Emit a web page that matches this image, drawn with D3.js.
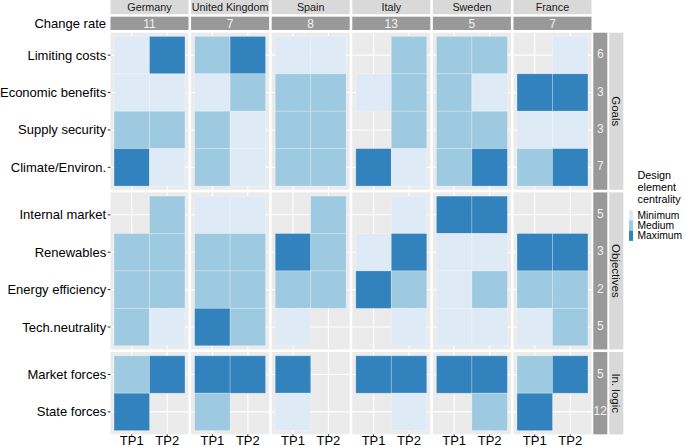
<!DOCTYPE html>
<html><head><meta charset="utf-8">
<script src="https://cdn.jsdelivr.net/npm/d3@7"></script>
<style>
html,body{margin:0;padding:0;background:#fff;}
svg{display:block;font-family:"Liberation Sans",Arial,Helvetica,sans-serif;}
</style></head>
<body><svg id="chart" width="685" height="447"></svg>
<script>
// ---------- data ----------
const countries = ["Germany","United Kingdom","Spain","Italy","Sweden","France"];
const changeRates = [11,7,8,13,5,7];
const timePoints = ["TP1","TP2"];
const groups = ["Goals","Objectives","In. logic"];
const goalRows = ["Limiting costs","Economic benefits","Supply security","Climate/Environ."];
const objectiveRows = ["Internal market","Renewables","Energy efficiency","Tech.neutrality"];
const logicRows = ["Market forces","State forces"];
const rowRates = [6,3,3,7,5,3,2,5,5,12];
const levels = ["Minimum","Medium","Maximum"];
// centrality codes per row [TP1, TP2]: 0 = absent, 1 = Minimum, 2 = Medium, 3 = Maximum
const germany = [[1,3],[1,1],[2,2],[3,1],[0,2],[2,2],[2,2],[2,1],[2,3],[3,0]];
const unitedKingdom = [[2,3],[1,2],[2,1],[2,1],[1,1],[2,2],[2,2],[3,2],[3,3],[2,0]];
const spain = [[1,1],[2,2],[2,2],[2,2],[0,2],[3,2],[2,2],[1,0],[3,0],[1,0]];
const italy = [[0,2],[1,2],[0,2],[3,1],[0,1],[1,3],[3,2],[0,1],[3,3],[0,1]];
const sweden = [[2,2],[2,1],[2,2],[2,3],[3,3],[1,1],[1,2],[1,1],[3,3],[0,2]];
const france = [[0,1],[3,3],[1,1],[2,3],[0,0],[3,3],[2,2],[1,2],[2,3],[3,0]];

const countryValues = [germany, unitedKingdom, spain, italy, sweden, france];
const groupRows = [goalRows, objectiveRows, logicRows];
const allRows = goalRows.concat(objectiveRows, logicRows);

// ---------- layout ----------
const svg = d3.select("#chart");
const panelLeft = 110.5, panelRight = 591.5;
const panelTop = 32.7, rowUnit = 37.4, gapY = 2.6;
const bg = "#ebebeb", stripLight = "#d9d9d9", stripDark = "#999999";
const fillColor = d3.scaleOrdinal().domain([1,2,3]).range(["#deebf7","#9ecae1","#3182bd"]);

const xCountry = d3.scaleBand().domain(countries).range([panelLeft, panelRight]).paddingInner(0.032);
const bw = xCountry.bandwidth();
const xTP = d3.scaleBand().domain(timePoints).range([0, bw]).paddingInner(0).paddingOuter(0.1);

let yCursor = panelTop;
const groupLayout = groups.map((g, i) => {
  const h = (groupRows[i].length + 0.2) * rowUnit;
  const y0 = yCursor;
  yCursor += h + gapY;
  const yScale = d3.scaleBand().domain(groupRows[i]).range([y0, y0 + h]).paddingInner(0).paddingOuter(0.1);
  return {name: g, y0, h, rows: groupRows[i], yScale};
});
const rowCenter = {};
groupLayout.forEach(gl => gl.rows.forEach(r => rowCenter[r] = gl.yScale(r) + gl.yScale.bandwidth()/2));

// ---------- top strips ----------
const topStrip = svg.append("g");
countries.forEach((c, ci) => {
  const x0 = xCountry(c);
  topStrip.append("rect").attr("x", x0).attr("y", 0).attr("width", bw).attr("height", 14.2).attr("fill", stripLight);
  topStrip.append("text").attr("x", x0 + bw/2).attr("y", 7.4).attr("text-anchor","middle").attr("dominant-baseline","central")
    .attr("font-size", 10.8).attr("fill", "#1a1a1a").text(c);
  topStrip.append("rect").attr("x", x0).attr("y", 16.7).attr("width", bw).attr("height", 13.3).attr("fill", stripDark);
  topStrip.append("text").attr("x", x0 + bw/2).attr("y", 23.6).attr("text-anchor","middle").attr("dominant-baseline","central")
    .attr("font-size", 12).attr("fill", "#f2f2f2").text(changeRates[ci]);
});
topStrip.append("text").attr("x", 106).attr("y", 23.5).attr("text-anchor","end").attr("dominant-baseline","central")
  .attr("font-size", 13).attr("fill", "#000").text("Change rate");

// ---------- panels ----------
const panels = svg.append("g");
groupLayout.forEach(gl => {
  countries.forEach((c, ci) => {
    const x0 = xCountry(c);
    const p = panels.append("g");
    p.append("rect").attr("x", x0).attr("y", gl.y0).attr("width", bw).attr("height", gl.h).attr("fill", bg);
    timePoints.forEach(tp => {
      const gx = x0 + xTP(tp) + xTP.bandwidth()/2;
      p.append("line").attr("x1", gx).attr("x2", gx).attr("y1", gl.y0).attr("y2", gl.y0 + gl.h)
        .attr("stroke", "#fff").attr("stroke-width", 1.1);
    });
    gl.rows.forEach(r => {
      const gy = rowCenter[r];
      p.append("line").attr("x1", x0).attr("x2", x0 + bw).attr("y1", gy).attr("y2", gy)
        .attr("stroke", "#fff").attr("stroke-width", 1.1);
    });
    gl.rows.forEach(r => {
      const ri = allRows.indexOf(r);
      timePoints.forEach((tp, ti) => {
        const v = countryValues[ci][ri][ti];
        if (!v) return;
        p.append("rect")
          .attr("x", x0 + xTP(tp)).attr("y", gl.yScale(r))
          .attr("width", xTP.bandwidth()).attr("height", gl.yScale.bandwidth())
          .attr("fill", fillColor(v))
          .attr("stroke", "rgba(255,255,255,0.3)").attr("stroke-width", 0.8);
      });
    });
  });
});

// ---------- y axis ----------
const yAxisG = svg.append("g");
allRows.forEach(r => {
  const y = rowCenter[r];
  yAxisG.append("line").attr("x1", panelLeft - 2.8).attr("x2", panelLeft).attr("y1", y).attr("y2", y)
    .attr("stroke", "#333").attr("stroke-width", 1);
  yAxisG.append("text").attr("x", panelLeft - 4.3).attr("y", y).attr("text-anchor","end").attr("dominant-baseline","central")
    .attr("font-size", 13).attr("fill", "#000").text(r);
});

// ---------- x axis ----------
const lastG = groupLayout[groupLayout.length - 1];
const xAxisG = svg.append("g");
countries.forEach(c => {
  timePoints.forEach(tp => {
    const x = xCountry(c) + xTP(tp) + xTP.bandwidth()/2;
    const yb = lastG.y0 + lastG.h;
    xAxisG.append("line").attr("x1", x).attr("x2", x).attr("y1", yb).attr("y2", yb + 2.8).attr("stroke","#333");
    xAxisG.append("text").attr("x", x).attr("y", yb + 6.2).attr("text-anchor","middle").attr("dominant-baseline","central")
      .attr("font-size", 13).attr("fill", "#000").text(tp);
  });
});

// ---------- right strips ----------
const rightG = svg.append("g");
const darkX = 593.3, darkW = 14, lightX = 609.3, lightW = 14;
groupLayout.forEach(gl => {
  rightG.append("rect").attr("x", darkX).attr("y", gl.y0).attr("width", darkW).attr("height", gl.h).attr("fill", stripDark);
  rightG.append("rect").attr("x", lightX).attr("y", gl.y0).attr("width", lightW).attr("height", gl.h).attr("fill", stripLight);
  const cx = lightX + lightW/2, cy = gl.y0 + gl.h/2;
  rightG.append("text").attr("transform", `translate(${cx},${cy}) rotate(90)`)
    .attr("text-anchor","middle").attr("dominant-baseline","central")
    .attr("font-size", 11.5).attr("fill", "#1a1a1a").text(gl.name);
});
allRows.forEach((r, i) => {
  rightG.append("text").attr("x", darkX + darkW/2).attr("y", rowCenter[r] - 1).attr("text-anchor","middle").attr("dominant-baseline","central")
    .attr("font-size", 12).attr("fill", "#f2f2f2").text(rowRates[i]);
});

// ---------- legend ----------
const leg = svg.append("g");
["Design","element","centrality"].forEach((t, i) => {
  leg.append("text").attr("x", 637.5).attr("y", 175 + i*12).attr("dominant-baseline","central")
    .attr("font-size", 10.8).attr("fill", "#000").text(t);
});
levels.forEach((lv, i) => {
  leg.append("rect").attr("x", 629).attr("y", 210 + i*10.3).attr("width", 4).attr("height", 10.3)
    .attr("fill", fillColor(i+1));
  leg.append("text").attr("x", 637.5).attr("y", 215 + i*10.3).attr("dominant-baseline","central")
    .attr("font-size", 10.3).attr("fill", "#000").text(lv);
});
</script>
</body></html>
